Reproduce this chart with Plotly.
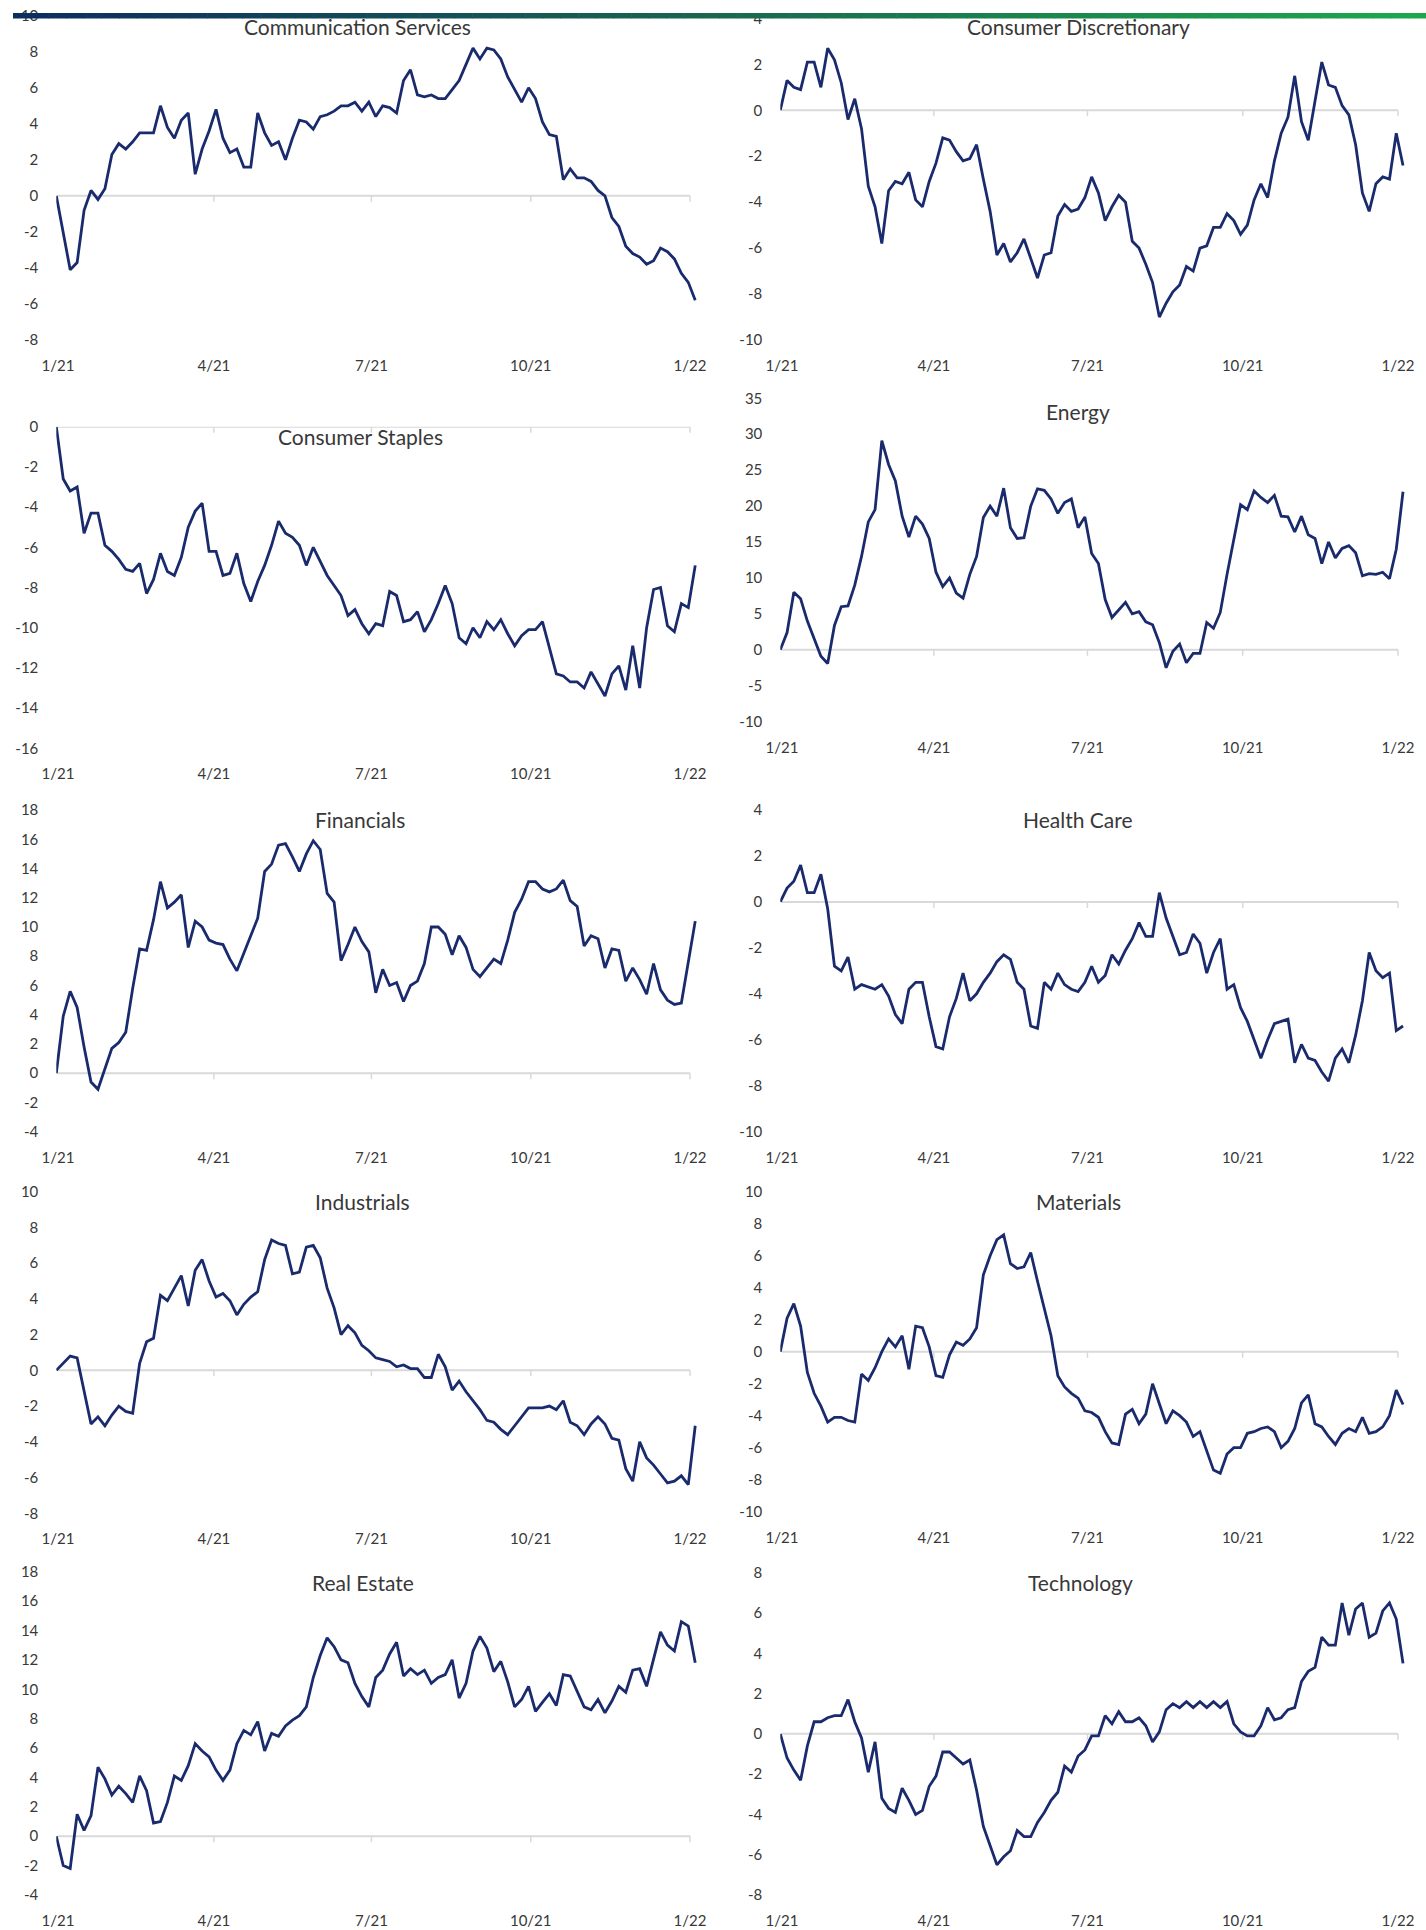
import plotly.graph_objects as go
import pandas as pd

# ---------------- data (YTD relative performance) ----------------
start_date = "2020-12-31"
end_date = "2022-01-04"

comm_services = [0, -2.0, -4.1, -3.7, -0.8, 0.3, -0.2, 0.4, 2.3, 2.9, 2.6, 3.0, 3.5, 3.5, 3.5, 5.0,
                 3.8, 3.2, 4.2, 4.6, 1.2, 2.6, 3.6, 4.8, 3.2, 2.4, 2.6, 1.6, 1.6, 4.6, 3.5, 2.8,
                 3.0, 2.0, 3.2, 4.2, 4.1, 3.7, 4.4, 4.5, 4.7, 5.0, 5.0, 5.2, 4.7, 5.2, 4.4, 5.0,
                 4.9, 4.6, 6.4, 7.0, 5.6, 5.5, 5.6, 5.4, 5.4, 5.9, 6.4, 7.3, 8.2, 7.6, 8.2, 8.1,
                 7.6, 6.6, 5.9, 5.2, 6.0, 5.4, 4.1, 3.4, 3.3, 0.9, 1.5, 1.0, 1.0, 0.8, 0.3, 0.0,
                 -1.2, -1.7, -2.8, -3.2, -3.4, -3.8, -3.6, -2.9, -3.1, -3.5, -4.3, -4.8, -5.8]

consumer_discretionary = [0, 1.3, 1.0, 0.9, 2.1, 2.1, 1.0, 2.7, 2.2, 1.2, -0.4, 0.5, -0.8, -3.3, -4.2,
                          -5.8, -3.5, -3.1, -3.2, -2.7, -3.9, -4.2, -3.1, -2.3, -1.2, -1.3, -1.8, -2.2,
                          -2.1, -1.5, -3.0, -4.4, -6.3, -5.8, -6.6, -6.2, -5.6, -6.5, -7.3, -6.3, -6.2,
                          -4.6, -4.1, -4.4, -4.3, -3.8, -2.9, -3.6, -4.8, -4.2, -3.7, -4.0, -5.7, -6.0,
                          -6.7, -7.5, -9.0, -8.4, -7.9, -7.6, -6.8, -7.0, -6.0, -5.9, -5.1, -5.1, -4.5,
                          -4.8, -5.4, -5.0, -3.9, -3.2, -3.8, -2.2, -1.0, -0.3, 1.5, -0.5, -1.3, 0.4,
                          2.1, 1.1, 1.0, 0.2, -0.2, -1.5, -3.6, -4.4, -3.2, -2.9, -3.0, -1.0, -2.4]

consumer_staples = [0, -2.6, -3.2, -3.0, -5.3, -4.3, -4.3, -5.9, -6.2, -6.6, -7.1, -7.2, -6.8, -8.3,
                    -7.6, -6.3, -7.2, -7.4, -6.5, -5.0, -4.2, -3.8, -6.2, -6.2, -7.4, -7.3, -6.3,
                    -7.8, -8.7, -7.7, -6.9, -5.9, -4.7, -5.3, -5.5, -5.9, -6.9, -6.0, -6.7, -7.4,
                    -7.9, -8.4, -9.4, -9.1, -9.8, -10.3, -9.8, -9.9, -8.2, -8.4, -9.7, -9.6, -9.2,
                    -10.2, -9.6, -8.8, -7.9, -8.8, -10.5, -10.8, -10.0, -10.5, -9.7, -10.1, -9.6,
                    -10.3, -10.9, -10.4, -10.1, -10.1, -9.7, -11.0, -12.3, -12.4, -12.7, -12.7,
                    -13.0, -12.2, -12.8, -13.4, -12.3, -11.9, -13.1, -10.9, -13.0, -10.0, -8.1,
                    -8.0, -9.9, -10.2, -8.8, -9.0, -6.9]

energy = [0, 2.4, 8.0, 7.1, 4.0, 1.5, -0.9, -1.9, 3.4, 6.0, 6.1, 9.0, 13.0, 17.8, 19.5, 29.1, 25.8,
          23.5, 18.6, 15.7, 18.6, 17.5, 15.5, 10.8, 8.8, 10.0, 7.9, 7.2, 10.5, 13.0, 18.4, 20.0,
          18.6, 22.5, 17.0, 15.5, 15.6, 20.0, 22.4, 22.2, 21.0, 19.0, 20.5, 21.0, 17.0, 18.5, 13.4,
          12.0, 7.0, 4.5, 5.6, 6.6, 5.0, 5.3, 3.9, 3.5, 1.0, -2.5, -0.2, 0.8, -1.8, -0.5, -0.5,
          3.8, 3.0, 5.2, 10.5, 15.2, 20.2, 19.5, 22.1, 21.2, 20.5, 21.5, 18.6, 18.5, 16.4, 18.6,
          16.0, 15.5, 12.0, 15.0, 12.8, 14.1, 14.5, 13.5, 10.3, 10.6, 10.5, 10.8, 9.9, 14.0, 22.0]

financials = [0, 3.9, 5.6, 4.5, 1.8, -0.6, -1.1, 0.3, 1.7, 2.1, 2.8, 5.8, 8.5, 8.4, 10.5, 13.1, 11.3,
              11.7, 12.2, 8.6, 10.4, 10.0, 9.1, 8.9, 8.8, 7.8, 7.0, 8.2, 9.4, 10.6, 13.8, 14.3, 15.6,
              15.7, 14.8, 13.8, 15.0, 15.9, 15.3, 12.3, 11.7, 7.7, 8.8, 10.0, 9.0, 8.3, 5.5, 7.1,
              6.0, 6.2, 4.9, 6.0, 6.3, 7.5, 10.0, 10.0, 9.5, 8.1, 9.4, 8.6, 7.1, 6.6, 7.2, 7.8, 7.5,
              9.1, 11.0, 11.9, 13.1, 13.1, 12.6, 12.4, 12.6, 13.2, 11.8, 11.4, 8.7, 9.4, 9.2, 7.2,
              8.5, 8.4, 6.3, 7.2, 6.4, 5.4, 7.5, 5.7, 5.0, 4.7, 4.8, 7.6, 10.4]

health_care = [0, 0.6, 0.9, 1.6, 0.4, 0.4, 1.2, -0.3, -2.8, -3.0, -2.4, -3.8, -3.6, -3.7, -3.8, -3.6,
               -4.1, -4.9, -5.3, -3.8, -3.5, -3.5, -5.0, -6.3, -6.4, -5.0, -4.2, -3.1, -4.3, -4.0,
               -3.5, -3.1, -2.6, -2.3, -2.5, -3.5, -3.8, -5.4, -5.5, -3.5, -3.8, -3.1, -3.6, -3.8,
               -3.9, -3.5, -2.8, -3.5, -3.2, -2.3, -2.7, -2.1, -1.6, -0.9, -1.5, -1.5, 0.4, -0.7,
               -1.5, -2.3, -2.2, -1.4, -1.8, -3.1, -2.2, -1.6, -3.8, -3.6, -4.6, -5.2, -6.0, -6.8,
               -6.0, -5.3, -5.2, -5.1, -7.0, -6.2, -6.8, -6.9, -7.4, -7.8, -6.8, -6.4, -7.0, -5.8,
               -4.3, -2.2, -3.0, -3.3, -3.1, -5.6, -5.4]

industrials = [0, 0.4, 0.8, 0.7, -1.2, -3.0, -2.6, -3.1, -2.5, -2.0, -2.3, -2.4, 0.4, 1.6, 1.8, 4.2,
               3.9, 4.6, 5.3, 3.6, 5.6, 6.2, 5.0, 4.1, 4.3, 3.9, 3.1, 3.7, 4.1, 4.4, 6.2, 7.3, 7.1,
               7.0, 5.4, 5.5, 6.9, 7.0, 6.3, 4.6, 3.5, 2.0, 2.5, 2.1, 1.4, 1.1, 0.7, 0.6, 0.5, 0.2,
               0.3, 0.1, 0.1, -0.4, -0.4, 0.9, 0.2, -1.1, -0.6, -1.2, -1.7, -2.2, -2.8, -2.9, -3.3,
               -3.6, -3.1, -2.6, -2.1, -2.1, -2.1, -2.0, -2.2, -1.7, -2.9, -3.1, -3.6, -3.0, -2.6,
               -3.0, -3.8, -3.9, -5.5, -6.2, -4.0, -4.9, -5.3, -5.8, -6.3, -6.2, -5.9, -6.4, -3.1]

materials = [0, 2.1, 3.0, 1.6, -1.3, -2.6, -3.4, -4.4, -4.1, -4.1, -4.3, -4.4, -1.4, -1.8, -1.0, 0.0,
             0.8, 0.3, 1.0, -1.1, 1.6, 1.5, 0.3, -1.5, -1.6, -0.2, 0.6, 0.4, 0.8, 1.5, 4.8, 6.0, 7.0,
             7.3, 5.5, 5.2, 5.3, 6.2, 4.4, 2.6, 1.0, -1.5, -2.2, -2.6, -2.9, -3.7, -3.8, -4.1, -5.0,
             -5.7, -5.8, -3.9, -3.6, -4.5, -3.9, -2.0, -3.3, -4.5, -3.7, -4.0, -4.4, -5.3, -5.0,
             -6.2, -7.4, -7.6, -6.4, -6.0, -6.0, -5.1, -5.0, -4.8, -4.7, -5.0, -6.0, -5.6, -4.8,
             -3.2, -2.7, -4.5, -4.7, -5.3, -5.8, -5.1, -4.8, -5.0, -4.1, -5.1, -5.0, -4.7, -4.0,
             -2.4, -3.3]

real_estate = [0, -2.0, -2.2, 1.5, 0.4, 1.4, 4.7, 3.9, 2.8, 3.4, 2.9, 2.3, 4.1, 3.1, 0.9, 1.0, 2.3,
               4.1, 3.8, 4.8, 6.3, 5.8, 5.4, 4.5, 3.8, 4.5, 6.3, 7.2, 6.9, 7.8, 5.8, 7.0, 6.8, 7.5,
               7.9, 8.2, 8.8, 10.8, 12.3, 13.5, 12.9, 12.0, 11.8, 10.4, 9.5, 8.8, 10.8, 11.3, 12.4,
               13.2, 10.9, 11.4, 11.0, 11.3, 10.4, 10.8, 11.0, 12.0, 9.4, 10.4, 12.6, 13.6, 12.8,
               11.2, 11.9, 10.5, 8.8, 9.3, 10.2, 8.5, 9.1, 9.7, 8.9, 11.0, 10.9, 9.9, 8.8, 8.6, 9.3,
               8.4, 9.2, 10.2, 9.8, 11.3, 11.4, 10.2, 12.0, 13.9, 13.0, 12.6, 14.6, 14.3, 11.8]

technology = [0, -1.2, -1.8, -2.3, -0.6, 0.6, 0.6, 0.8, 0.9, 0.9, 1.7, 0.6, -0.2, -1.9, -0.4, -3.2,
              -3.7, -3.9, -2.7, -3.3, -4.0, -3.8, -2.6, -2.1, -0.9, -0.9, -1.2, -1.5, -1.3, -2.8,
              -4.6, -5.6, -6.5, -6.1, -5.8, -4.8, -5.1, -5.1, -4.4, -3.9, -3.3, -2.9, -1.6, -1.9,
              -1.1, -0.8, -0.1, -0.1, 0.9, 0.5, 1.1, 0.6, 0.6, 0.8, 0.4, -0.4, 0.1, 1.2, 1.5, 1.3,
              1.6, 1.3, 1.6, 1.3, 1.6, 1.3, 1.6, 0.5, 0.1, -0.1, -0.1, 0.4, 1.3, 0.7, 0.8, 1.2, 1.3,
              2.6, 3.1, 3.3, 4.8, 4.4, 4.4, 6.5, 4.9, 6.2, 6.5, 4.8, 5.0, 6.1, 6.5, 5.7, 3.5]

sector_titles = ["Communication Services", "Consumer Discretionary", "Consumer Staples", "Energy",
                 "Financials", "Health Care", "Industrials", "Materials", "Real Estate", "Technology"]
sector_values = [comm_services, consumer_discretionary, consumer_staples, energy, financials,
                 health_care, industrials, materials, real_estate, technology]
# y-axis (min, max, step) for each panel
y_axes = [(-8, 10, 2), (-10, 4, 2), (-16, 0, 2), (-10, 35, 5), (-4, 18, 2),
          (-10, 4, 2), (-8, 10, 2), (-10, 10, 2), (-4, 18, 2), (-8, 8, 2)]

tick_dates = ["2021-01-01", "2021-04-01", "2021-07-01", "2021-10-01", "2022-01-01"]
tick_labels = ["1/21", "4/21", "7/21", "10/21", "1/22"]

# ---------------- layout geometry (pixels) ----------------
W, H = 1426, 1930
x_range = ["2020-12-31", "2022-01-06"]
col_px = [(56.3, 698.7), (780.3, 1406.4)]
panel_px = [(15.7, 340), (18.4, 340), (426.7, 748.3), (398.3, 721.7), (810, 1131.7),
            (810, 1131.7), (1191.7, 1513.3), (1191.7, 1511.7), (1571.7, 1895), (1572.7, 1895)]
title_px = [(357, 27), (1078, 27), (360, 437), (1078, 411), (360, 819),
            (1078, 819), (363, 1201), (1078, 1201), (363, 1582), (1080, 1582)]

LINE = "#1a2b6d"
TEXT = "#383838"
FONT = "Lato"

fig = go.Figure()
layout = dict(template="none", width=W, height=H, margin=dict(l=0, r=0, t=0, b=0, pad=0),
              autosize=False, paper_bgcolor="white", plot_bgcolor="white", showlegend=False,
              font=dict(family=FONT, color=TEXT, size=15))
annotations = []
shapes = []

dates = pd.date_range(start_date, end_date, periods=len(comm_services))

for k, (title, vals) in enumerate(zip(sector_titles, sector_values)):
    n = k + 1
    xa = "x" if n == 1 else f"x{n}"
    ya = "y" if n == 1 else f"y{n}"
    col = k % 2
    x0p, x1p = col_px[col]
    top, bot = panel_px[k]
    ymin, ymax, step = y_axes[k]
    yt = list(range(ymin, ymax + 1, step))

    fig.add_trace(go.Scatter(x=dates, y=vals, mode="lines", xaxis=xa, yaxis=ya,
                             line=dict(color=LINE, width=2.8), hoverinfo="skip"))

    layout[f"xaxis{'' if n == 1 else n}"] = dict(
        domain=[x0p / W, x1p / W], anchor=ya, type="date", range=x_range, automargin=False,
        tickmode="array", tickvals=tick_dates, ticktext=tick_labels,
        showgrid=False, zeroline=False, showline=False,
        ticks="outside", ticklen=12, tickcolor="rgba(0,0,0,0)",
        tickfont=dict(family=FONT, size=15, color=TEXT), fixedrange=True)
    layout[f"yaxis{'' if n == 1 else n}"] = dict(
        domain=[1 - bot / H, 1 - top / H], anchor=xa, range=[ymin, ymax], automargin=False,
        tickmode="array", tickvals=yt, ticktext=[str(v) for v in yt],
        showgrid=False, zeroline=False, showline=False,
        ticks="outside", ticklen=14, tickcolor="rgba(0,0,0,0)",
        tickfont=dict(family=FONT, size=15, color=TEXT), fixedrange=True)

    # zero (category) axis line with quarterly tick marks
    shapes.append(dict(type="line", xref=xa, yref=ya, x0=tick_dates[0], x1=tick_dates[-1],
                       y0=0, y1=0, line=dict(color="#d9d9d9", width=2), layer="below"))
    for td in tick_dates[1:]:
        shapes.append(dict(type="line", xref=xa, yref=ya, x0=td, x1=td, ysizemode="pixel",
                           yanchor=0, y0=0, y1=-6, line=dict(color="#d9d9d9", width=1.5),
                           layer="below"))

    tx, ty = title_px[k]
    annotations.append(dict(text=title, xref="paper", yref="paper", x=tx / W, y=1 - ty / H,
                            xanchor="center", yanchor="middle", showarrow=False,
                            font=dict(family=FONT, size=21, color=TEXT)))

# top banner: navy-to-green gradient strip
stops = [(0.0, (12, 44, 96)), (0.5, (25, 104, 79)), (1.0, (29, 168, 77))]
nseg = 80
bx0, bx1, by0, by1 = 13, W, 13, 18.5
for s in range(nseg):
    t = (s + 0.5) / nseg
    for (p0, c0), (p1, c1) in zip(stops[:-1], stops[1:]):
        if p0 <= t <= p1:
            f = (t - p0) / (p1 - p0)
            c = tuple(int(round(a + (b - a) * f)) for a, b in zip(c0, c1))
            break
    xa0 = bx0 + (bx1 - bx0) * s / nseg
    xa1 = bx0 + (bx1 - bx0) * (s + 1) / nseg + 0.6
    shapes.append(dict(type="rect", xref="paper", yref="paper", x0=xa0 / W, x1=min(xa1, W) / W,
                       y0=1 - by1 / H, y1=1 - by0 / H, line=dict(width=0),
                       fillcolor=f"rgb{c}", layer="above"))

layout["annotations"] = annotations
layout["shapes"] = shapes
fig.update_layout(**layout)
fig.write_html("out.html", config={"displayModeBar": False, "staticPlot": True},
               post_script="document.body.style.margin='0';document.body.style.overflow='hidden';")
